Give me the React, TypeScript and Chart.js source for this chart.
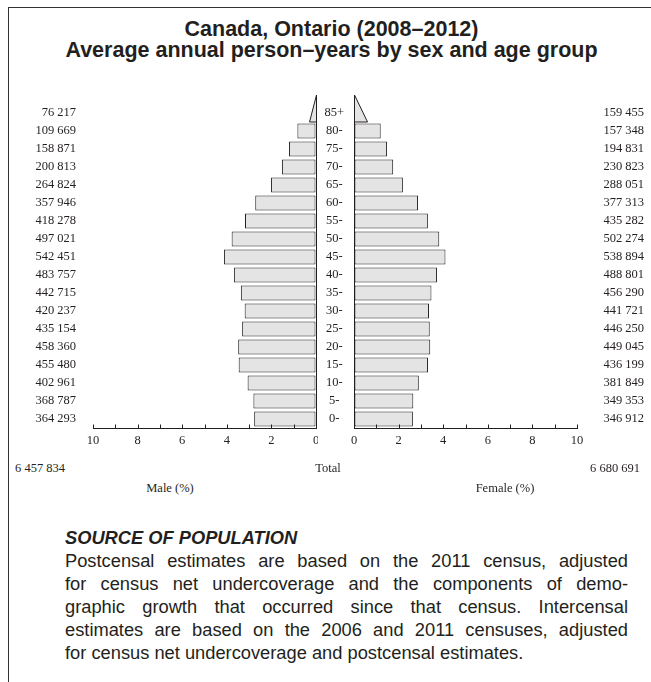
import React, { useEffect, useRef } from 'react';
import { Chart, registerables } from 'chart.js';

Chart.register(...registerables);

// ---- data ----
const ageGroups = ['85+', '80-', '75-', '70-', '65-', '60-', '55-', '50-', '45-', '40-', '35-', '30-', '25-', '20-', '15-', '10-', '5-', '0-'];
const maleCounts = [76217, 109669, 158871, 200813, 264824, 357946, 418278, 497021, 542451, 483757, 442715, 420237, 435154, 458360, 455480, 402961, 368787, 364293];
const femaleCounts = [159455, 157348, 194831, 230823, 288051, 377313, 435282, 502274, 538894, 488801, 456290, 441721, 446250, 449045, 436199, 381849, 349353, 346912];
const maleTotal = 6457834;
const femaleTotal = 6680691;
const percentTicks = [0, 2, 4, 6, 8, 10];

const titleLines = ['Canada, Ontario (2008\u20132012)', 'Average annual person\u2013years by sex and age group'];
const sourceHeading = 'SOURCE OF POPULATION';
const sourceLines = [
  'Postcensal estimates are based on the 2011 census, adjusted',
  'for census net undercoverage and the components of demo-',
  'graphic growth that occurred since that census. Intercensal',
  'estimates are based on the 2006 and 2011 censuses, adjusted',
  'for census net undercoverage and postcensal estimates.',
];

const INK = '#231f20';
const FILL = '#e4e4e4';
const SERIF = "'Liberation Serif', 'Times New Roman', serif";
const SANS = "'Liberation Sans', Arial, Helvetica, sans-serif";
const TICK_FONT = { family: SERIF, size: 12.5 };

const grandTotal = maleTotal + femaleTotal;
const malePct = maleCounts.map((c) => (c / grandTotal) * 100);
const femalePct = femaleCounts.map((c) => (c / grandTotal) * 100);

const fmt = (n: number) => String(n).replace(/\B(?=(\d{3})+(?!\d))/g, ' ');

function pyramidPlugin(values: number[]) {
  return {
    id: 'pyramidDecor',
    afterDatasetsDraw(chart: any) {
      const ctx = chart.ctx;
      const xs = chart.scales.x;
      const ys = chart.scales.y;
      const area = chart.chartArea;
      ctx.save();
      ctx.strokeStyle = INK;
      ctx.lineWidth = 1;
      // zero line
      const x0 = Math.round(xs.getPixelForValue(0)) + 0.5;
      ctx.beginPath();
      ctx.moveTo(x0, area.top);
      ctx.lineTo(x0, area.bottom);
      ctx.stroke();
      // tick marks pointing up
      const yAxis = Math.round(area.bottom) + 0.5;
      ctx.beginPath();
      for (let v = 0; v <= 10; v++) {
        const px = Math.round(xs.getPixelForValue(v)) + 0.5;
        ctx.moveTo(px, yAxis);
        ctx.lineTo(px, yAxis - 4);
      }
      ctx.stroke();
      // triangle for open-ended top group
      const c0 = ys.getPixelForValue(0);
      const c1 = ys.getPixelForValue(1);
      const step = c1 - c0;
      const base = c0 + step / 2;
      const apex = base - step * 1.5;
      const xt = xs.getPixelForValue(values[0] / 2);
      ctx.beginPath();
      ctx.moveTo(x0, apex);
      ctx.lineTo(x0, base);
      ctx.lineTo(xt, base);
      ctx.closePath();
      ctx.fillStyle = FILL;
      ctx.fill();
      ctx.stroke();
      ctx.restore();
    },
  };
}

function barDataset(values: number[], label: string) {
  return {
    label,
    data: values,
    backgroundColor: values.map((_, i) => (i === 0 ? 'rgba(0,0,0,0)' : FILL)),
    borderColor: values.map((_, i) => (i === 0 ? 'rgba(0,0,0,0)' : INK)),
    borderWidth: 1,
    borderSkipped: false as const,
    barPercentage: 0.83,
    categoryPercentage: 1,
    xAxisID: 'x',
    yAxisID: 'y',
  };
}

function xScale(reverse: boolean) {
  return {
    type: 'linear' as const,
    position: 'bottom' as const,
    min: 0,
    max: 10,
    reverse,
    afterBuildTicks: (s: any) => {
      s.ticks = percentTicks.map((v) => ({ value: v }));
    },
    grid: { drawOnChartArea: false, drawTicks: false },
    border: { display: true, color: INK, width: 1 },
    ticks: { padding: 5, font: TICK_FONT, color: INK, maxRotation: 0, autoSkip: false },
    afterFit: (s: any) => {
      s.height = 32;
    },
  };
}

function App() {
  const maleRef = useRef<HTMLCanvasElement>(null);
  const femaleRef = useRef<HTMLCanvasElement>(null);

  useEffect(() => {
    const male = new Chart(maleRef.current!, {
      type: 'bar',
      data: { labels: ageGroups, datasets: [barDataset(malePct, 'Male (%)')] },
      options: {
        indexAxis: 'y',
        responsive: false,
        animation: false,
        devicePixelRatio: 1,
        layout: { padding: { top: 104, left: 0, right: 2, bottom: 0 } },
        plugins: { legend: { display: false }, tooltip: { enabled: false }, title: { display: false } },
        scales: {
          x: xScale(true),
          y: {
            type: 'category',
            position: 'left',
            grid: { display: false, drawTicks: false },
            border: { display: false },
            ticks: {
              autoSkip: false,
              padding: 17,
              crossAlign: 'near',
              font: TICK_FONT,
              color: INK,
              callback: (_v: any, i: number) => fmt(maleCounts[i]),
            },
            afterFit: (s: any) => {
              s.width = 93;
            },
          },
        },
      } as any,
      plugins: [pyramidPlugin(malePct)],
    });

    const female = new Chart(femaleRef.current!, {
      type: 'bar',
      data: { labels: ageGroups, datasets: [barDataset(femalePct, 'Female (%)')] },
      options: {
        indexAxis: 'y',
        responsive: false,
        animation: false,
        devicePixelRatio: 1,
        layout: { padding: { top: 104, left: 0, right: 7, bottom: 0 } },
        plugins: { legend: { display: false }, tooltip: { enabled: false }, title: { display: false } },
        scales: {
          x: xScale(false),
          y: {
            type: 'category',
            position: 'left',
            grid: { display: false, drawTicks: false },
            border: { display: false },
            ticks: { autoSkip: false, padding: 10, crossAlign: 'center', font: TICK_FONT, color: INK },
            afterFit: (s: any) => {
              s.width = 38;
            },
          },
          yR: {
            type: 'category',
            axis: 'y',
            position: 'right',
            grid: { display: false, drawTicks: false },
            border: { display: false },
            ticks: {
              autoSkip: false,
              padding: 0,
              crossAlign: 'far',
              font: TICK_FONT,
              color: INK,
              callback: (_v: any, i: number) => fmt(femaleCounts[i]),
            },
            afterFit: (s: any) => {
              s.width = 67;
            },
          },
        },
      } as any,
      plugins: [pyramidPlugin(femalePct)],
    });

    return () => {
      male.destroy();
      female.destroy();
    };
  }, []);

  const serifLabel = (text: string, style: React.CSSProperties) => (
    <div
      style={{
        position: 'absolute',
        fontFamily: SERIF,
        fontSize: 12.5,
        lineHeight: '16px',
        color: INK,
        whiteSpace: 'nowrap',
        ...style,
      }}
    >
      {text}
    </div>
  );

  return (
    <div style={{ position: 'absolute', left: 0, top: 0, width: 651, height: 682, overflow: 'hidden', background: '#fff' }}>
      <div
        style={{
          position: 'absolute',
          left: 8,
          top: 7,
          right: 0,
          bottom: 0,
          borderTop: '1.5px solid #333',
          borderLeft: '1.5px solid #333',
        }}
      />
      <div
        style={{
          position: 'absolute',
          left: 12,
          width: 639,
          top: 19,
          textAlign: 'center',
          fontFamily: SANS,
          fontWeight: 'bold',
          fontSize: 21.5,
          lineHeight: '21px',
          color: INK,
        }}
      >
        {titleLines.map((t) => (
          <div key={t}>{t}</div>
        ))}
      </div>

      <canvas ref={maleRef} width={318} height={460} style={{ position: 'absolute', left: 0, top: 0, width: 318, height: 460 }} />
      <canvas ref={femaleRef} width={335} height={460} style={{ position: 'absolute', left: 316, top: 0, width: 335, height: 460 }} />

      {serifLabel(fmt(maleTotal), { left: 15, top: 460 })}
      {serifLabel('Total', { left: 328, top: 460, transform: 'translateX(-50%)' })}
      {serifLabel(fmt(femaleTotal), { right: 651 - 640, top: 460 })}
      {serifLabel('Male (%)', { left: 170, top: 480, transform: 'translateX(-50%)' })}
      {serifLabel('Female (%)', { left: 505, top: 480, transform: 'translateX(-50%)' })}

      <div
        style={{
          position: 'absolute',
          left: 65,
          top: 525.5,
          width: 563,
          fontFamily: SANS,
          fontSize: 18.3,
          lineHeight: '23px',
          color: INK,
        }}
      >
        <div style={{ fontWeight: 'bold', fontStyle: 'italic' }}>{sourceHeading}</div>
        {sourceLines.map((line, i) => (
          <div
            key={i}
            style={{
              textAlign: 'justify',
              textAlignLast: i === sourceLines.length - 1 ? 'left' : 'justify',
              whiteSpace: 'nowrap',
            }}
          >
            {line}
          </div>
        ))}
      </div>
    </div>
  );
}

export default App;
